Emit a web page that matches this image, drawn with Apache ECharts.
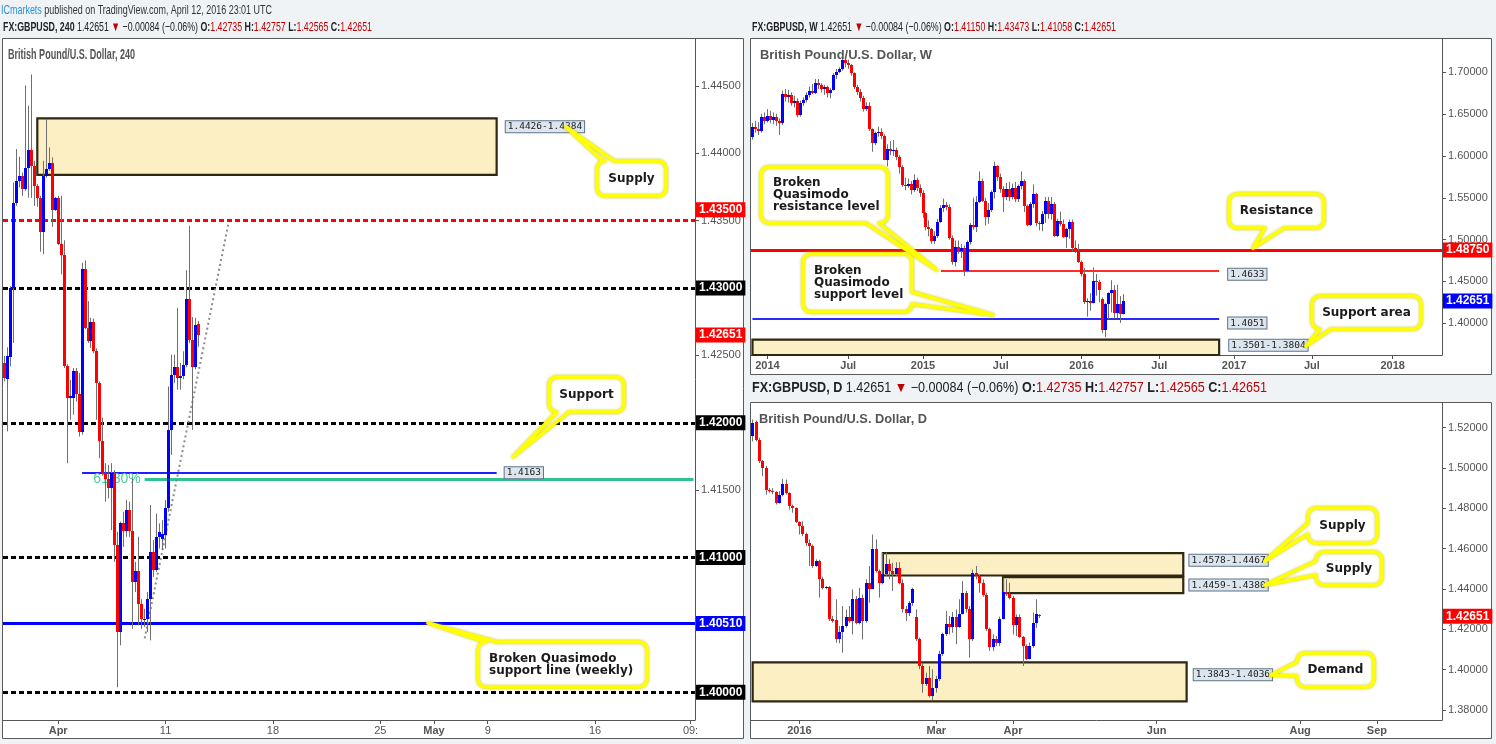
<!DOCTYPE html>
<html><head><meta charset="utf-8">
<script src="https://cdn.jsdelivr.net/npm/echarts@6/dist/echarts.min.js"></script>
<style>html,body{margin:0;padding:0;background:#f0f3f6;}#c{width:1496px;height:744px;}</style>
</head><body><div id="c"></div>
<script>
// ---------------- DATA ----------------
// 240-minute candles [open, high, low, close]
const h4Candles = [
[1.42444,1.42494,1.42308,1.42332],[1.42328,1.42561,1.41936,1.42494],[1.42489,1.43015,1.42419,1.42998],
[1.42998,1.43784,1.42593,1.43635],[1.43635,1.44032,1.43610,1.43797],[1.43797,1.43975,1.43747,1.43834],
[1.43834,1.43858,1.43685,1.43735],[1.43735,1.44504,1.43722,1.43891],[1.43891,1.44355,1.43672,1.44025],
[1.44025,1.44586,1.43670,1.43908],[1.43908,1.43945,1.43610,1.43759],[1.43759,1.43774,1.43603,1.43668],
[1.43668,1.43685,1.43270,1.43419],[1.43419,1.43945,1.43251,1.43834],[1.43834,1.44256,1.43819,1.43884],
[1.43884,1.44044,1.43871,1.43925],[1.43925,1.43970,1.43454,1.43578],[1.43578,1.43677,1.43573,1.43668],
[1.43668,1.43685,1.43320,1.43330],[1.43330,1.43685,1.43102,1.43243],[1.43243,1.43355,1.42407,1.42419],
[1.42419,1.42436,1.41700,1.42183],[1.42183,1.42320,1.42023,1.42196],[1.42183,1.42407,1.42060,1.42382],
[1.42382,1.42407,1.42159,1.42213],[1.42213,1.42370,1.41898,1.41930],[1.41930,1.43188,1.41911,1.43139],
[1.43139,1.43206,1.42695,1.42704],[1.42704,1.42903,1.42593,1.42605],[1.42605,1.42779,1.42556,1.42747],
[1.42747,1.42774,1.42516,1.42536],[1.42536,1.42553,1.42023,1.42295],[1.42295,1.42308,1.41737,1.41866],
[1.41866,1.42040,1.41608,1.41625],[1.41625,1.41700,1.41414,1.41580],[1.41580,1.41688,1.41439,1.41513],
[1.41513,1.41700,1.41204,1.41625],[1.41625,1.41650,1.40968,1.41092],[1.41092,1.41191,1.40037,1.40447],
[1.40447,1.41266,1.40348,1.41253],[1.41253,1.41340,1.41079,1.41196],[1.41196,1.41427,1.41154,1.41353],
[1.41353,1.41414,1.41154,1.41196],[1.41196,1.41588,1.40471,1.40819],[1.40819,1.40968,1.40744,1.40899],
[1.40899,1.41154,1.40497,1.40657],[1.40657,1.40690,1.40471,1.40546],[1.40534,1.40620,1.40484,1.40546],
[1.40546,1.40744,1.40447,1.40690],[1.40690,1.41390,1.40385,1.41042],[1.41042,1.41129,1.40856,1.40906],
[1.40906,1.41327,1.40894,1.41154],[1.41154,1.41253,1.41067,1.41191],[1.41137,1.41278,1.41055,1.41171],
[1.41167,1.41427,1.41067,1.41370],[1.41370,1.42270,1.41340,1.41948],[1.41948,1.42506,1.41762,1.42358],
[1.42358,1.42506,1.42295,1.42412],[1.42412,1.42853,1.42246,1.42332],[1.42332,1.42444,1.42246,1.42345],
[1.42345,1.42531,1.42323,1.42427],[1.42427,1.43132,1.42412,1.42916],[1.42916,1.43462,1.42591,1.42611],
[1.42611,1.42784,1.41948,1.42412],[1.42412,1.42779,1.42397,1.42725],[1.42735,1.42757,1.42565,1.42651]
];
// weekly candles [open, high, low, close]
const weeklyCandles = [
[1.6223,1.6395,1.6195,1.6343],[1.6343,1.6420,1.6280,1.6327],[1.6327,1.6405,1.6250,1.6300],[1.6300,1.6505,1.6280,1.6462],
[1.6462,1.6520,1.6380,1.6422],[1.6422,1.6560,1.6400,1.6478],[1.6478,1.6540,1.6390,1.6430],[1.6430,1.6520,1.6380,1.6462],
[1.6462,1.6505,1.6360,1.6414],[1.6414,1.6450,1.6250,1.6390],[1.6390,1.6780,1.6370,1.6741],[1.6741,1.6800,1.6650,1.6709],
[1.6709,1.6790,1.6640,1.6733],[1.6733,1.6760,1.6600,1.6637],[1.6637,1.6720,1.6580,1.6661],[1.6661,1.6690,1.6460,1.6486],
[1.6486,1.6660,1.6470,1.6629],[1.6629,1.6700,1.6600,1.6669],[1.6669,1.6760,1.6640,1.6725],[1.6725,1.6830,1.6700,1.6781],
[1.6781,1.6860,1.6740,1.6757],[1.6757,1.6920,1.6740,1.6876],[1.6876,1.6920,1.6800,1.6853],[1.6853,1.6870,1.6760,1.6797],
[1.6797,1.6850,1.6730,1.6821],[1.6821,1.6840,1.6700,1.6749],[1.6749,1.6810,1.6690,1.6789],[1.6789,1.6990,1.6780,1.6968],
[1.6968,1.7040,1.6920,1.7008],[1.7008,1.7060,1.6990,1.7036],[1.7036,1.7180,1.7020,1.7147],[1.7147,1.7190,1.7060,1.7116],
[1.7116,1.7150,1.7040,1.7084],[1.7084,1.7100,1.6960,1.6988],[1.6988,1.7000,1.6800,1.6821],[1.6821,1.6850,1.6730,1.6765],
[1.6765,1.6800,1.6650,1.6689],[1.6689,1.6720,1.6530,1.6560],[1.6560,1.6640,1.6540,1.6600],[1.6600,1.6640,1.6300,1.6319],
[1.6319,1.6330,1.6050,1.6159],[1.6159,1.6290,1.6130,1.6271],[1.6271,1.6350,1.6230,1.6291],[1.6291,1.6330,1.6200,1.6239],
[1.6239,1.6260,1.5950,1.5952],[1.5952,1.6140,1.5875,1.6080],[1.6080,1.6180,1.6010,1.6064],[1.6064,1.6190,1.6000,1.6072],
[1.6072,1.6100,1.5950,1.5992],[1.5992,1.6010,1.5790,1.5873],[1.5873,1.5890,1.5630,1.5653],[1.5653,1.5740,1.5590,1.5645],
[1.5645,1.5730,1.5620,1.5661],[1.5661,1.5700,1.5540,1.5594],[1.5594,1.5780,1.5570,1.5713],[1.5713,1.5740,1.5580,1.5614],
[1.5614,1.5660,1.5510,1.5554],[1.5554,1.5590,1.5260,1.5315],[1.5315,1.5330,1.5110,1.5155],[1.5155,1.5230,1.5040,1.5124],
[1.5124,1.5140,1.4950,1.4988],[1.4988,1.5100,1.4950,1.5044],[1.5044,1.5250,1.5020,1.5215],[1.5215,1.5410,1.5200,1.5375],
[1.5375,1.5490,1.5330,1.5414],[1.5414,1.5450,1.5350,1.5394],[1.5394,1.5420,1.5000,1.5016],[1.5016,1.5050,1.4700,1.4728],
[1.4728,1.4990,1.4680,1.4910],[1.4910,1.4990,1.4830,1.4865],[1.4865,1.4950,1.4780,1.4900],[1.4900,1.4930,1.4565,1.4630],
[1.4630,1.4990,1.4610,1.4970],[1.4970,1.5200,1.4940,1.5175],[1.5175,1.5500,1.5120,1.5155],[1.5155,1.5520,1.5090,1.5450],
[1.5450,1.5815,1.5440,1.5700],[1.5700,1.5730,1.5450,1.5460],[1.5460,1.5500,1.5170,1.5270],[1.5270,1.5440,1.5190,1.5350],
[1.5350,1.5590,1.5330,1.5570],[1.5570,1.5930,1.5490,1.5875],[1.5875,1.5890,1.5700,1.5745],[1.5745,1.5790,1.5560,1.5605],
[1.5605,1.5640,1.5330,1.5510],[1.5510,1.5680,1.5470,1.5600],[1.5600,1.5690,1.5460,1.5505],[1.5505,1.5670,1.5480,1.5615],
[1.5615,1.5690,1.5450,1.5485],[1.5485,1.5660,1.5450,1.5640],[1.5640,1.5815,1.5600,1.5700],[1.5700,1.5720,1.5330,1.5405],
[1.5405,1.5420,1.5160,1.5175],[1.5175,1.5450,1.5160,1.5430],[1.5430,1.5660,1.5380,1.5540],[1.5540,1.5560,1.5160,1.5195],
[1.5195,1.5220,1.5110,1.5185],[1.5185,1.5340,1.5100,1.5310],[1.5310,1.5510,1.5200,1.5465],[1.5465,1.5510,1.5250,1.5310],
[1.5310,1.5510,1.5240,1.5430],[1.5430,1.5450,1.5030,1.5045],[1.5045,1.5250,1.5030,1.5225],[1.5225,1.5335,1.5160,1.5190],
[1.5190,1.5240,1.5020,1.5035],[1.5035,1.5140,1.4900,1.5125],[1.5125,1.5240,1.5010,1.5215],[1.5215,1.5240,1.4860,1.4895],
[1.4895,1.4990,1.4840,1.4865],[1.4865,1.4950,1.4720,1.4735],[1.4735,1.4750,1.4560,1.4590],[1.4590,1.4660,1.4230,1.4255],
[1.4255,1.4300,1.4080,1.4265],[1.4265,1.4360,1.4150,1.4245],[1.4245,1.4668,1.4240,1.4500],[1.4500,1.4590,1.4330,1.4495],
[1.4495,1.4520,1.4250,1.4400],[1.4290,1.4310,1.3880,1.3915],[1.3915,1.4240,1.3835,1.4230],[1.4230,1.4370,1.4050,1.4365],
[1.4365,1.4515,1.4130,1.4395],[1.4395,1.4455,1.4055,1.4125],[1.4125,1.4460,1.4060,1.4230],[1.4230,1.4325,1.4005,1.4115],
[1.4115,1.43473,1.41058,1.42651]
];
// daily candles [open, high, low, close]
const dailyCandles = [
[1.5157,1.5240,1.5132,1.5223],[1.5226,1.5235,1.5132,1.5141],[1.5141,1.5150,1.5025,1.5033],[1.5033,1.5040,1.4959,1.5000],
[1.5000,1.5010,1.4868,1.4893],[1.4893,1.4901,1.4877,1.4888],[1.4888,1.4900,1.4870,1.4880],[1.4880,1.4885,1.4819,1.4827],
[1.4827,1.4885,1.4824,1.4868],[1.4868,1.4946,1.4860,1.4923],[1.4923,1.4943,1.4868,1.4877],[1.4877,1.4880,1.4794,1.4811],
[1.4811,1.4819,1.4778,1.4802],[1.4802,1.4805,1.4728,1.4731],[1.4731,1.4735,1.4670,1.4712],[1.4712,1.4736,1.4662,1.4675],
[1.4675,1.4680,1.4613,1.4629],[1.4629,1.4646,1.4514,1.4613],[1.4613,1.4620,1.4505,1.4514],[1.4514,1.4547,1.4510,1.4538],
[1.4538,1.4545,1.4357,1.4448],[1.4448,1.4461,1.4398,1.4406],[1.4406,1.4415,1.4398,1.4411],[1.4411,1.4415,1.4241,1.4250],
[1.4250,1.4266,1.4233,1.4241],[1.4246,1.4349,1.4134,1.4150],[1.4150,1.4217,1.4131,1.4187],[1.4187,1.4316,1.4084,1.4217],
[1.4217,1.4299,1.4208,1.4263],[1.4263,1.4316,1.4233,1.4241],[1.4241,1.4398,1.4175,1.4352],[1.4352,1.4365,1.4225,1.4230],
[1.4230,1.4406,1.4225,1.4357],[1.4357,1.4373,1.4150,1.4241],[1.4241,1.4448,1.4233,1.4431],[1.4431,1.4514,1.4332,1.4401],
[1.4401,1.4670,1.4398,1.4599],[1.4599,1.4646,1.4481,1.4489],[1.4489,1.4497,1.4357,1.4431],[1.4431,1.4580,1.4423,1.4472],
[1.4472,1.4580,1.4464,1.4522],[1.4522,1.4547,1.4448,1.4489],[1.4489,1.4530,1.4390,1.4472],[1.4472,1.4533,1.4464,1.4505],
[1.4505,1.4533,1.4423,1.4431],[1.4431,1.4448,1.4283,1.4299],[1.4299,1.4316,1.4241,1.4283],[1.4283,1.4340,1.4266,1.4329],
[1.4329,1.4406,1.4316,1.4401],[1.4263,1.4299,1.4142,1.4150],[1.4150,1.4159,1.4002,1.4018],[1.4018,1.4035,1.3886,1.3928],
[1.3928,1.3985,1.3919,1.3961],[1.3961,1.4018,1.3862,1.3870],[1.3870,1.4002,1.3850,1.3911],[1.3911,1.3969,1.3886,1.3952],
[1.3952,1.4093,1.3944,1.4076],[1.4076,1.4183,1.4068,1.4175],[1.4175,1.4291,1.4167,1.4225],[1.4225,1.4266,1.4175,1.4213],
[1.4213,1.4286,1.4183,1.4263],[1.4263,1.4299,1.4126,1.4213],[1.4213,1.4349,1.4208,1.4278],[1.4278,1.4439,1.4274,1.4382],
[1.4382,1.4390,1.4283,1.4299],[1.4302,1.4316,1.4060,1.4150],[1.4150,1.4497,1.4142,1.4477],[1.4477,1.4514,1.4448,1.4464],
[1.4464,1.4472,1.4382,1.4431],[1.4431,1.4448,1.4362,1.4368],[1.4368,1.4382,1.4192,1.4200],[1.4200,1.4208,1.4093,1.4114],
[1.4114,1.4175,1.4093,1.4150],[1.4150,1.4167,1.4117,1.4131],[1.4131,1.4263,1.4117,1.4253],[1.4253,1.4456,1.4250,1.4385],
[1.4385,1.4448,1.4365,1.4373],[1.4373,1.4431,1.4349,1.4357],[1.4357,1.4365,1.4175,1.4220],[1.4220,1.4274,1.4167,1.4263],
[1.4263,1.4274,1.4159,1.4164],[1.4164,1.4167,1.4018,1.4117],[1.4117,1.4126,1.4048,1.4055],[1.4055,1.4134,1.4051,1.4117],
[1.4117,1.4283,1.4109,1.4233],[1.4233,1.4349,1.4208,1.4274],[1.42735,1.42757,1.42565,1.42651]
];

// axes: tick labels and the time slot they sit on
const h4XLabels = ['Apr','11','18','25','May','9','16','09:'];
const h4XLabelSlots = [18,54,90,126,144,162,198,230];
const h4BoldLabels = ['Apr','May'];
const h4SlotCount = 232;
const h4YTicks = [1.400,1.405,1.410,1.415,1.420,1.425,1.430,1.435,1.440,1.445];
const h4YRange = [1.39794,1.44849];

const wXLabels = ['2014','Jul','2015','Jul','2016','Jul','2017','Jul','2018'];
const wXLabelSlots = [5,32,57,83,110,136,161,187,214];
const wSlotCount = 231;
const wYTicks = [1.40,1.45,1.50,1.55,1.60,1.65,1.70];
const wYRange = [1.36211,1.73980];

const dXLabels = ['2016','Mar','Apr','Jun','Aug','Sep'];
const dXLabelSlots = [14,55,78,121,164,187];
const dSlotCount = 207;
const dYTicks = [1.38,1.40,1.42,1.44,1.46,1.48,1.50,1.52];
const dYRange = [1.37504,1.53225];

// levels and zones
const lastPrice = 1.42651;
const priceChange = '\u22120.00084 (\u22120.06%)';
const h4RedDashed = [1.4350];
const h4BlackDashed = [1.4300,1.4200,1.4100,1.4000];
const h4WeeklyBQM = 1.4051;
const h4SupportLevel = {value:1.4163, from:26, to:165};
const h4Fib = {value:1.4158, from:47, text:'61.80%'};
const h4Trend = [[47,1.4040],[75,1.4347]];
const h4Supply = {top:1.4426, bottom:1.4384, from:11, to:165};
const wResistance = 1.4875;
const wBQMResistance = {value:1.4633, from:63, to:156};
const wBQMSupport = {value:1.4051, from:0, to:156};
const wSupportArea = {top:1.3804, bottom:1.3501, from:0, to:156};
const dSupplyA = {top:1.4578, bottom:1.4467, from:39, to:129};
const dSupplyB = {top:1.4459, bottom:1.4380, from:75, to:129};
const dDemand = {top:1.4036, bottom:1.3843, from:0, to:130};

// ---------------- STYLE HELPERS ----------------
const ARIAL = '"Liberation Sans",Arial,sans-serif';
const CALLOUT = '"DejaVu Sans",Verdana,sans-serif';
const MONO = '"DejaVu Sans Mono",monospace';
const AXIS = '#555555';

function slotLabels(count, labels, slots){
  const arr = new Array(count).fill('');
  labels.forEach((l,i)=>{ arr[slots[i]] = l; });
  return arr;
}
function renderCandle(params, api){
  const x = api.value(0), o = api.value(1), h = api.value(2), l = api.value(3), c = api.value(4);
  const po = api.coord([x,o]), pc = api.coord([x,c]), ph = api.coord([x,h]), pl = api.coord([x,l]);
  const band = api.size([1,0])[0];
  const bw = Math.max(1, Math.round(band*0.95));
  const bx = Math.round(po[0]-bw/2);
  const wx = bx + Math.floor(bw/2) + 0.5;
  const top = Math.round(Math.min(po[1],pc[1])), bot = Math.round(Math.max(po[1],pc[1]));
  return {type:'group', children:[
    {type:'line', shape:{x1:wx,y1:ph[1],x2:wx,y2:pl[1]}, style:{stroke:'#707070',lineWidth:1}},
    {type:'rect', shape:{x:bx,y:top,width:bw,height:Math.max(1,bot-top)}, style:{fill: c>=o ? '#0000ff' : '#ff0000'}}
  ]};
}
function xAxisFor(gi, cats, boldList, allBold){
  return {type:'category', gridIndex:gi, data:cats, boundaryGap:true,
    axisLine:{show:true,lineStyle:{color:AXIS,width:1}},
    axisTick:{show:true,alignWithLabel:true,length:4,interval:(i,v)=>v!=='',lineStyle:{color:AXIS}},
    axisLabel:{show:true,interval:(i,v)=>v!=='',margin:5,color:'#555',fontSize:11,fontFamily:ARIAL,
      formatter:v=>(allBold||boldList.indexOf(v)>=0)?'{b|'+v+'}':v,
      rich:{b:{fontWeight:'bold',color:'#555',fontSize:11,fontFamily:ARIAL}}},
    splitLine:{show:false}};
}
function yAxisFor(gi, range, ticks){
  return {type:'value', gridIndex:gi, position:'right', min:range[0], max:range[1],
    axisLine:{show:true,lineStyle:{color:AXIS}},
    axisTick:{show:true,length:4,customValues:ticks,lineStyle:{color:AXIS}},
    axisLabel:{show:true,customValues:ticks,margin:6,color:'#555',fontSize:11,fontFamily:ARIAL,formatter:v=>v.toFixed(5)},
    splitLine:{show:false}};
}
function priceBox(bg, text, dy){
  return {show:true, position:'end', distance:1, formatter:text, color:'#fff', backgroundColor:bg,
    fontWeight:'bold', fontSize:12, fontFamily:ARIAL, padding:[2,3,1,3], offset:[0,dy||0], opacity:1};
}
function zoneLabel(text, pos, dist, dy){
  return {show:true, position:pos, distance:dist, offset:[0,dy||0], formatter:text, color:'#1b1b1b',
    backgroundColor:'#dde6ee', borderColor:'#5f7386', borderWidth:1, padding:[1,2,0,2],
    fontFamily:MONO, fontSize:9.5};
}
const zoneStyle = {color:'#fdefc4', borderColor:'#2e2712', borderWidth:2.2, opacity:1};
const hiddenLine = {color:'rgba(0,0,0,0)', width:0};
function zoneArea(z, text, dist, dy){
  return [{coord:[z.from,z.top], itemStyle:zoneStyle, label:zoneLabel(text,'right',dist,dy)}, {coord:[z.to,z.bottom]}];
}
function candleSeries(gi, rows){
  return {type:'custom', xAxisIndex:gi, yAxisIndex:gi, renderItem:renderCandle, clip:true, silent:true,
    animation:false, z:3, encode:{x:0,y:[1,2,3,4]}, data:rows.map((r,i)=>[i,r[0],r[1],r[2],r[3]])};
}
function markerSeries(gi, lines, areas){
  return {type:'line', xAxisIndex:gi, yAxisIndex:gi, data:[], silent:true, animation:false, symbol:'none',
    markLine:{silent:true, z:2, precision:6, animation:false, symbol:['none','none'], data:lines},
    markArea:{silent:true, z:1, precision:6, animation:false, data:areas}};
}

// ---------------- OPTION ----------------
const h4Lines = [
  ...h4RedDashed.map(v=>({yAxis:v, lineStyle:{color:'#ff0000',width:3,type:[5,3]}, label:priceBox('#ff0000',v.toFixed(5),-11)})),
  ...h4BlackDashed.map(v=>({yAxis:v, lineStyle:{color:'#000000',width:3,type:[5,3]}, label:priceBox('#000000',v.toFixed(5),0)})),
  {yAxis:h4WeeklyBQM, lineStyle:{color:'#0000ff',width:3,type:'solid'}, label:priceBox('#0000ff',h4WeeklyBQM.toFixed(5),0)},
  {yAxis:lastPrice, lineStyle:hiddenLine, label:priceBox('#ff0000',lastPrice.toFixed(5),0)},
  [{coord:[h4SupportLevel.from,h4SupportLevel.value], lineStyle:{color:'#1f1fff',width:2,type:'solid'},
    label:zoneLabel(h4SupportLevel.value.toFixed(4),'end',8,0)},{coord:[h4SupportLevel.to,h4SupportLevel.value]}],
  [{coord:[h4Fib.from,h4Fib.value], lineStyle:{color:'#2ec48e',width:3,type:'solid'},
    label:{show:true,position:'start',distance:4,formatter:h4Fib.text,color:'#45d09c',fontSize:14,fontFamily:ARIAL}},
   {coord:[h4SlotCount-1,h4Fib.value]}],
  [{coord:h4Trend[0], lineStyle:{color:'#8a8a8a',width:2,type:[2,3]}, label:{show:false}},{coord:h4Trend[1]}]
];
const h4Areas = [zoneArea(h4Supply, h4Supply.top.toFixed(4)+'-'+h4Supply.bottom.toFixed(4), 8, -20)];

const wLines = [
  {yAxis:wResistance, lineStyle:{color:'#ff0000',width:3,type:'solid'}, label:priceBox('#ff0000',wResistance.toFixed(5),0)},
  {yAxis:lastPrice, lineStyle:hiddenLine, label:priceBox('#0000ff',lastPrice.toFixed(5),0)},
  [{coord:[wBQMResistance.from,wBQMResistance.value], lineStyle:{color:'#ff2a2a',width:2,type:'solid'},
    label:zoneLabel(wBQMResistance.value.toFixed(4),'end',9,4)},{coord:[wBQMResistance.to,wBQMResistance.value]}],
  [{coord:[wBQMSupport.from,wBQMSupport.value], lineStyle:{color:'#2a2aff',width:2,type:'solid'},
    label:zoneLabel(wBQMSupport.value.toFixed(4),'end',9,4)},{coord:[wBQMSupport.to,wBQMSupport.value]}]
];
const wAreas = [zoneArea(wSupportArea, wSupportArea.bottom.toFixed(4)+'-'+wSupportArea.top.toFixed(4), 9, -2)];

const dLines = [{yAxis:lastPrice, lineStyle:hiddenLine, label:priceBox('#ff0000',lastPrice.toFixed(5),0)}];
const dAreas = [
  zoneArea(dSupplyA, dSupplyA.top.toFixed(4)+'-'+dSupplyA.bottom.toFixed(4), 5, -4),
  zoneArea(dSupplyB, dSupplyB.top.toFixed(4)+'-'+dSupplyB.bottom.toFixed(4), 5, 0),
  zoneArea(dDemand, dDemand.bottom.toFixed(4)+'-'+dDemand.top.toFixed(4), 6, -7)
];

const option = {
  backgroundColor:'#f0f3f6',
  animation:false,
  grid:[
    {left:3, top:39, width:692, height:681, show:false},
    {left:751, top:39, width:691, height:316, show:false},
    {left:751, top:403, width:691, height:317, show:false}
  ],
  xAxis:[
    xAxisFor(0, slotLabels(h4SlotCount,h4XLabels,h4XLabelSlots), h4BoldLabels, false),
    xAxisFor(1, slotLabels(wSlotCount,wXLabels,wXLabelSlots), [], true),
    xAxisFor(2, slotLabels(dSlotCount,dXLabels,dXLabelSlots), [], true)
  ],
  yAxis:[ yAxisFor(0,h4YRange,h4YTicks), yAxisFor(1,wYRange,wYTicks), yAxisFor(2,dYRange,dYTicks) ],
  series:[
    markerSeries(0,h4Lines,h4Areas), candleSeries(0,h4Candles),
    markerSeries(1,wLines,wAreas), candleSeries(1,weeklyCandles),
    markerSeries(2,dLines,dAreas), candleSeries(2,dailyCandles)
  ]
};

// ---------------- ANNOTATIONS (headers, frames, callouts) ----------------
const mctx = document.createElement('canvas').getContext('2d');
function segWidth(segs, size){
  let w = 0;
  segs.forEach(s=>{ mctx.font = (s.bold?'bold ':'') + size + 'px "Liberation Sans", Arial, sans-serif'; w += mctx.measureText(s.t).width; });
  return w;
}
function fmt5(v){ return v.toFixed(5); }
function headerSegs(sym, row){
  return [
    {t:sym,bold:true,tag:'b'},{t:' '+fmt5(lastPrice)+' '},{t:'\u25BC',tag:'r'},{t:' '+priceChange+' '},
    {t:'O:',bold:true,tag:'b'},{t:fmt5(row[0]),tag:'r'},{t:' '},
    {t:'H:',bold:true,tag:'b'},{t:fmt5(row[1]),tag:'r'},{t:' '},
    {t:'L:',bold:true,tag:'b'},{t:fmt5(row[2]),tag:'r'},{t:' '},
    {t:'C:',bold:true,tag:'b'},{t:fmt5(row[3]),tag:'r'}
  ];
}
function richFromSegs(segs){ return segs.map(s=>s.tag ? '{'+s.tag+'|'+s.t+'}' : s.t).join(''); }
function fittedText(x, y, segs, size, targetW, baseFill, boldAll, rich){
  const s = targetW / segWidth(segs.map(q=>({t:q.t,bold:boldAll||q.bold})), size);
  return {type:'text', x:x, y:y, scaleX:s, z:60, silent:true,
    style:{text:richFromSegs(segs), fontFamily:ARIAL, fontSize:size, fontWeight:boldAll?'bold':'normal', fill:baseFill,
      verticalAlign:'middle', align:'left', rich:rich}};
}
function headerRich(size){
  return {b:{fontWeight:'bold',fontFamily:ARIAL,fontSize:size,fill:'#222'}, r:{fontFamily:ARIAL,fontSize:size,fill:'#c00000'}};
}

function balloonPoints(x,y,w,h,r,t){
  const pts=[];
  const arc=(cx,cy,a0,a1)=>{for(let k=0;k<=5;k++){const a=a0+(a1-a0)*k/5;pts.push([cx+r*Math.cos(a),cy+r*Math.sin(a)]);}};
  arc(x+r,y+r,Math.PI,1.5*Math.PI);
  if(t.edge==='top'){pts.push([t.a,y],t.tip,[t.b,y]);}
  arc(x+w-r,y+r,1.5*Math.PI,2*Math.PI);
  if(t.edge==='right'){pts.push([x+w,t.a],t.tip,[x+w,t.b]);}
  arc(x+w-r,y+h-r,0,0.5*Math.PI);
  if(t.edge==='bottom'){pts.push([t.b,y+h],t.tip,[t.a,y+h]);}
  arc(x+r,y+h-r,0.5*Math.PI,Math.PI);
  if(t.edge==='left'){pts.push([x,t.b],t.tip,[x,t.a]);}
  return pts;
}
const callouts = [
  {x:597,y:161,w:69,h:35,text:'Supply',tail:{edge:'top',a:603,b:614,tip:[566,127]}},
  {x:549,y:377,w:75,h:35,text:'Support',tail:{edge:'bottom',a:557,b:569,tip:[513,457]}},
  {x:478,y:642,w:169,h:45,text:'Broken Quasimodo\nsupport line (weekly)',tx:489,tail:{edge:'top',a:486,b:497,tip:[428,623]}},
  {x:761,y:167,w:127,h:56,text:'Broken\nQuasimodo\nresistance level',tx:773,tail:{edge:'bottom',a:866,b:879,tip:[937,270]}},
  {x:803,y:254,w:109,h:58,text:'Broken\nQuasimodo\nsupport level',tx:814,tail:{edge:'right',a:292,b:304,tip:[993,315]}},
  {x:1229,y:194,w:95,h:34,text:'Resistance',tail:{edge:'bottom',a:1265,b:1284,tip:[1253,248]}},
  {x:1312,y:296,w:109,h:33,text:'Support area',tail:{edge:'bottom',a:1320,b:1331,tip:[1306,346]}},
  {x:1308,y:508,w:69,h:35,text:'Supply',tail:{edge:'left',a:523,b:534,tip:[1265,561]}},
  {x:1316,y:552,w:66,h:33,text:'Supply',tail:{edge:'left',a:561,b:575,tip:[1265,585]}},
  {x:1297,y:653,w:77,h:34,text:'Demand',tail:{edge:'left',a:662,b:676,tip:[1271,675]}}
];
const graphics = [
  {type:'rect', z:-10, silent:true, shape:{x:2.5,y:38.5,width:741,height:700}, style:{fill:'#ffffff',stroke:'#5a5a5a',lineWidth:1}},
  {type:'rect', z:-10, silent:true, shape:{x:750.5,y:38.5,width:741,height:336}, style:{fill:'#ffffff',stroke:'#5a5a5a',lineWidth:1}},
  {type:'rect', z:-10, silent:true, shape:{x:750.5,y:402.5,width:741,height:336}, style:{fill:'#ffffff',stroke:'#5a5a5a',lineWidth:1}},
  fittedText(1, 10, [{t:'ICmarkets',tag:'c'},{t:' published on TradingView.com, April 12, 2016 23:01 UTC'}], 13, 271, '#333', false,
    {c:{fontFamily:ARIAL,fontSize:13,fill:'#2a8fd4'}}),
  fittedText(3, 27, headerSegs('FX:GBPUSD, 240', h4Candles[h4Candles.length-1]), 13, 369, '#222', false, headerRich(13)),
  fittedText(752, 27, headerSegs('FX:GBPUSD, W', weeklyCandles[weeklyCandles.length-1]), 13, 364, '#222', false, headerRich(13)),
  fittedText(752, 388, headerSegs('FX:GBPUSD, D', dailyCandles[dailyCandles.length-1]), 14, 515, '#222', false, headerRich(14)),
  fittedText(8, 55, [{t:'British Pound/U.S. Dollar, 240'}], 14, 127, '#555', true, {}),
  fittedText(760, 55, [{t:'British Pound/U.S. Dollar, W'}], 13, 172, '#555', true, {}),
  fittedText(759, 419, [{t:'British Pound/U.S. Dollar, D'}], 13, 168, '#555', true, {})
];
callouts.forEach(c=>{
  graphics.push({type:'polygon', z:50, silent:true, shape:{points:balloonPoints(c.x,c.y,c.w,c.h,8,c.tail)},
    style:{fill:'#ffffff',stroke:'#ffff00',lineWidth:3.5,lineJoin:'round',shadowBlur:3,shadowColor:'rgba(190,190,0,0.8)'}});
  const left = c.tx !== undefined;
  graphics.push({type:'text', z:51, silent:true, x: left ? c.tx : c.x + c.w/2, y: c.y + c.h/2,
    style:{text:c.text, fontFamily:CALLOUT, fontWeight:'bold', fontSize:12, lineHeight:12, fill:'#1a1a1a',
      align: left ? 'left' : 'center', verticalAlign:'middle'}});
});
option.graphic = graphics;

const chart = echarts.init(document.getElementById('c'), null, {width:1496, height:744});
chart.setOption(option);
</script></body></html>
